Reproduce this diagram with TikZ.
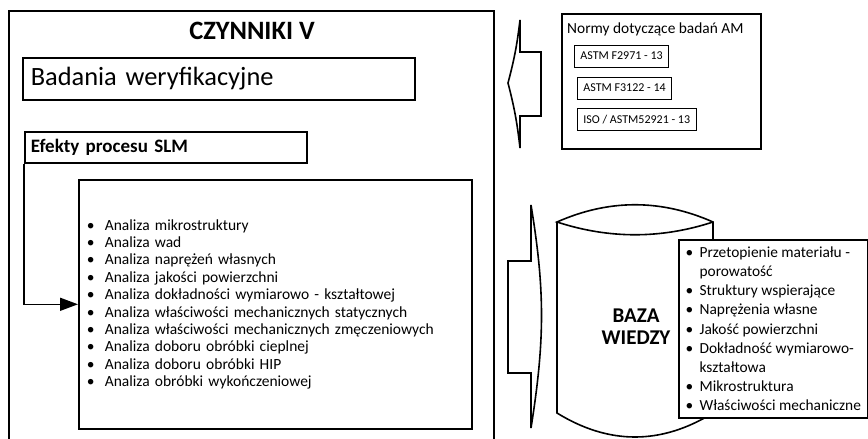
\documentclass[tikz,border=0pt]{standalone}
\usepackage{fontspec}
\setmainfont{Carlito}
\usetikzlibrary{arrows.meta,positioning,calc}

\newcommand{\itm}[2][18pt]{\makebox[#1][l]{\textbullet}#2}

\begin{document}
\begin{tikzpicture}[x=1pt, y=-1pt,
  font=\fontsize{15.5}{17.4}\selectfont,
  frame/.style={draw, line width=1.6pt},
  box/.style={frame, anchor=north west, align=left, inner ysep=0pt},
  normbox/.style={draw, line width=0.8pt, anchor=west, inner xsep=6pt,
                  minimum height=22pt, font=\fontsize{12}{14}\selectfont},
  hollow/.style={line width=1.6pt, line join=miter},
  arr/.style={-{Triangle[length=18pt, width=13pt]}, line width=1.6pt}
]
\useasboundingbox (0,0) rectangle (868,439);
\clip (0,0) rectangle (868,439);

% left part
\node[frame, anchor=north west, minimum width=485pt, minimum height=460pt]
  (czynniki) at (8,10) {};
\node[font=\fontsize{26.5}{30}\bfseries] (tytul) at (252,31) {CZYNNIKI V};
\node[box, inner xsep=8pt, text width=376pt, minimum height=42pt,
      font=\fontsize{26.4}{30}\selectfont] (badania) at (22,57)
  {Badania weryfikacyjne};
\node[box, inner xsep=6pt, text width=270pt, minimum height=31pt,
      font=\fontsize{19}{22}\bfseries] (efekty) at (24,131)
  {Efekty procesu SLM};
\node[box, inner xsep=8pt, text width=377pt, minimum height=249pt] (lista) at (78,179)
  {\itm{Analiza mikrostruktury}\\
   \itm{Analiza wad}\\
   \itm{Analiza naprężeń własnych}\\
   \itm{Analiza jakości powierzchni}\\
   \itm{Analiza dokładności wymiarowo - kształtowej}\\
   \itm{Analiza właściwości mechanicznych statycznych}\\
   \itm{Analiza właściwości mechanicznych zmęczeniowych}\\
   \itm{Analiza doboru obróbki cieplnej}\\
   \itm{Analiza doboru obróbki HIP}\\
   \itm{Analiza obróbki wykończeniowej}};
\draw[arr] (efekty.south west) |- (lista.west);

% block arrows
\draw[hollow] (520,20) to[bend left=4] (508,83) to[bend left=4] (520,148)
  -- (520,116) -- (541,116) -- (541,52) -- (520,52) -- cycle;
\draw[hollow] (531,205) .. controls (545,290) and (545,340) .. (531,428)
  -- (531,373) -- (508,373) -- (508,261) -- (531,261) -- cycle;

% standards
\node[frame, line width=2pt, anchor=north west, minimum width=199pt,
      minimum height=135pt] (normy) at (561,13) {};
\node[anchor=west, inner sep=0pt, font=\fontsize{15.4}{18}\selectfont] (normytyt)
  at ($(normy.north west)+(6,16)$) {Normy dotyczące badań AM};
\node[normbox] (f2971) at (574,56) {ASTM F2971 - 13};
\node[normbox] (f3122) at (577,88) {ASTM F3122 - 14};
\node[normbox] (iso52921) at (577,119.5) {ISO / ASTM52921 - 13};

% knowledge base
\draw[line width=1.6pt] (557,222) -- (557,413)
  .. controls (609,445) and (661,445) .. (713,413) -- (713,222)
  .. controls (661,199) and (609,199) .. (557,222)
  .. controls (609,239) and (661,239) .. (713,222);
\node[align=center, font=\fontsize{21}{22}\bfseries] (baza) at (636,327)
  {BAZA\\WIEDZY};
\node[box, fill=white, inner xsep=0pt, minimum width=189pt, minimum height=178pt,
      font=\fontsize{15.4}{19.2}\selectfont] (wiedza) at (678,239)
  {\itm[14pt]{Przetopienie materiału -}\\
   \hspace*{14pt}porowatość\\
   \itm[14pt]{Struktury wspierające}\\
   \itm[14pt]{Naprężenia własne}\\
   \itm[14pt]{Jakość powierzchni}\\
   \itm[14pt]{Dokładność wymiarowo-}\\
   \hspace*{14pt}kształtowa\\
   \itm[14pt]{Mikrostruktura}\\
   \itm[14pt]{Właściwości mechaniczne}};
\end{tikzpicture}
\end{document}
